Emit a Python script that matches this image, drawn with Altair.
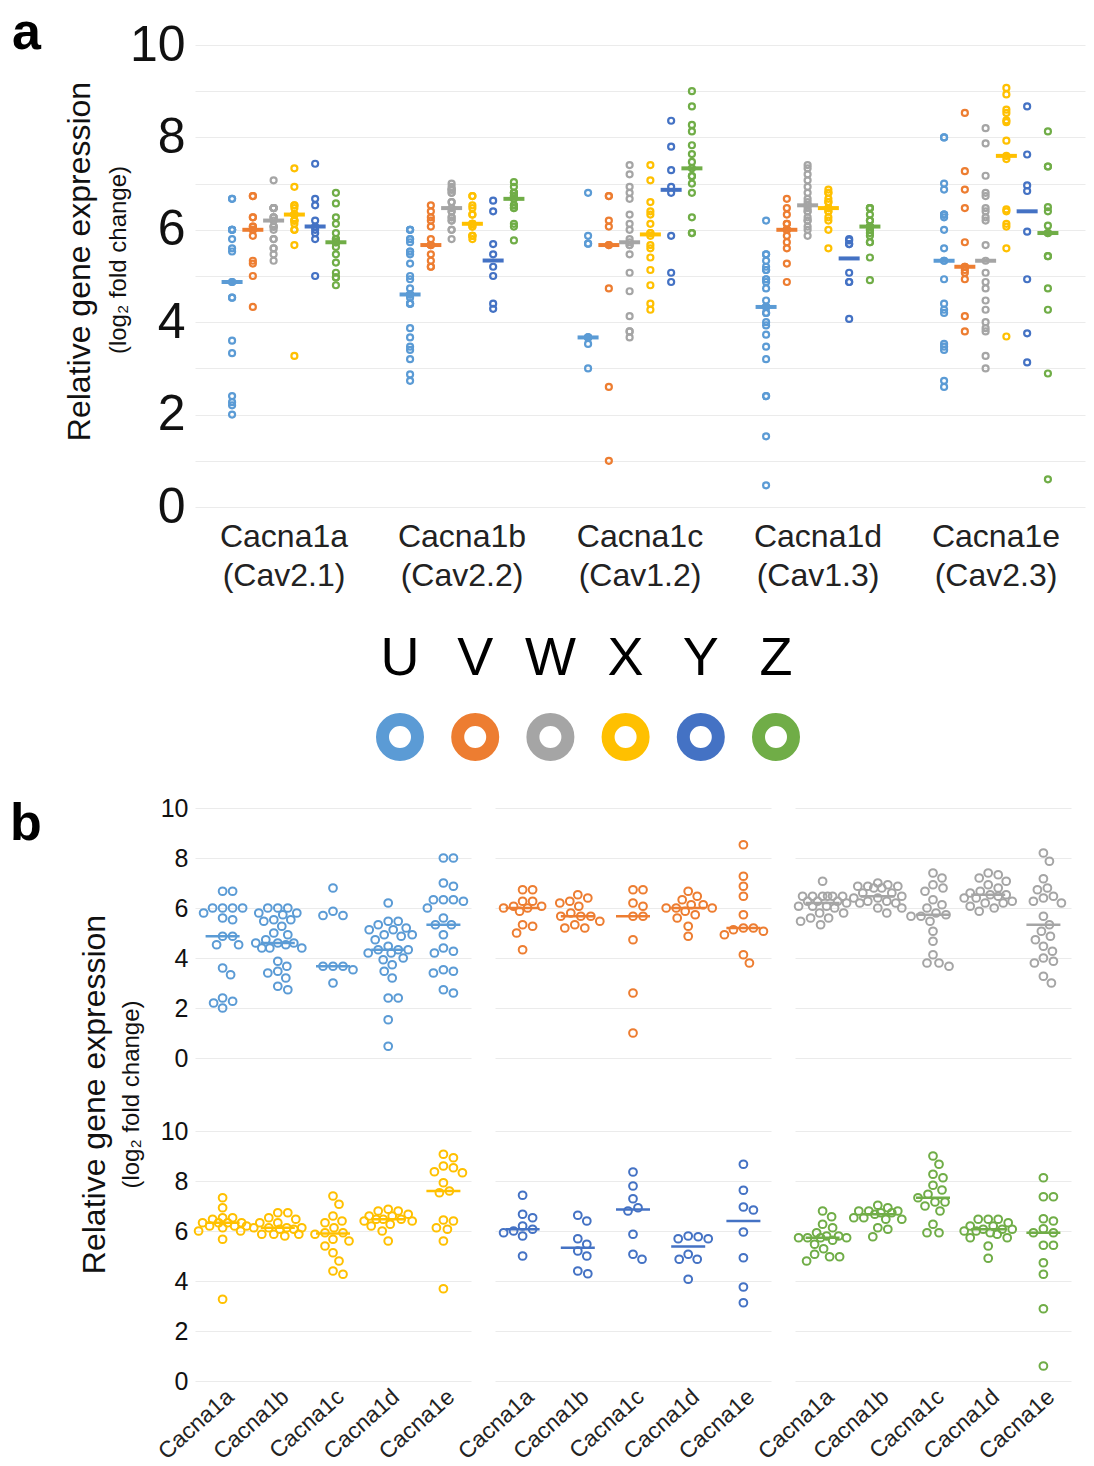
import altair as alt
import pandas as pd

genes = ["Cacna1a", "Cacna1b", "Cacna1c", "Cacna1d", "Cacna1e"]
channels = ["(Cav2.1)", "(Cav2.2)", "(Cav1.2)", "(Cav1.3)", "(Cav2.3)"]
groups = ["U", "V", "W", "X", "Y", "Z"]
colors = ["#5B9BD5", "#ED7D31", "#A5A5A5", "#FFC000", "#4472C4", "#70AD47"]

# values per group: one list per gene (Cacna1a..Cacna1e), log2 fold change
U = [
    [6.67, 6.67, 6.0, 6.0, 6.0, 6.0, 5.8, 5.6, 5.53, 4.87, 4.87, 4.53, 4.53, 3.6, 3.33, 2.4, 2.27, 2.2, 2.0],
    [6.0, 6.0, 6.0, 5.8, 5.8, 5.73, 5.53, 5.53, 5.47, 5.27, 5.0, 4.93, 4.73, 4.6, 4.6, 4.6, 4.53, 4.4, 4.4, 4.4,
     3.87, 3.67, 3.47, 3.4, 3.2, 2.87, 2.73],
    [6.8, 5.87, 5.7, 5.7, 3.67, 3.67, 3.67, 3.53, 3.0],
    [6.2, 5.47, 5.47, 5.33, 5.2, 5.13, 5.13, 4.93, 4.93, 4.87, 4.73, 4.47, 4.33, 4.33, 4.33, 4.2, 4.2, 4.0, 3.93,
     3.73, 3.47, 3.2, 2.4, 2.4, 1.53, 0.47],
    [8.0, 8.0, 7.0, 6.87, 6.33, 6.33, 6.33, 6.27, 6.0, 5.6, 5.33, 5.33, 4.93, 4.4, 4.27, 4.2, 3.53, 3.47, 3.4, 2.73, 2.6],
]
V = [
    [6.73, 6.73, 6.27, 6.27, 6.07, 6.07, 6.0, 6.0, 5.87, 5.33, 5.27, 5.0, 4.33],
    [6.53, 6.4, 6.27, 6.2, 6.07, 5.8, 5.67, 5.67, 5.67, 5.47, 5.33, 5.2, 5.2],
    [6.73, 6.73, 6.2, 6.07, 5.67, 5.67, 4.73, 2.6, 1.0],
    [6.67, 6.47, 6.33, 6.13, 6.13, 6.0, 6.0, 6.0, 5.87, 5.73, 5.6, 5.27, 4.87],
    [8.53, 7.27, 6.87, 6.47, 5.73, 5.2, 5.2, 5.13, 5.07, 4.93, 4.13, 3.8],
]
W = [
    [7.07, 6.47, 6.47, 6.47, 6.47, 6.47, 6.47, 6.27, 6.27, 6.27, 6.2, 6.07, 6.07, 6.07, 6.0, 5.8, 5.8, 5.6, 5.6,
     5.47, 5.33],
    [7.0, 6.93, 6.87, 6.87, 6.87, 6.8, 6.8, 6.6, 6.6, 6.47, 6.4, 6.4, 6.27, 6.27, 6.2, 6.2, 6.0, 6.0, 5.8],
    [7.4, 7.2, 6.93, 6.8, 6.67, 6.33, 6.13, 6.0, 5.8, 5.73, 5.67, 5.67, 5.47, 5.07, 4.67, 4.13, 3.8, 3.8, 3.67],
    [7.4, 7.33, 7.2, 7.07, 6.93, 6.8, 6.67, 6.6, 6.53, 6.53, 6.47, 6.4, 6.4, 6.27, 6.2, 6.2, 6.07, 6.0, 5.87],
    [8.2, 7.87, 7.17, 6.8, 6.73, 6.47, 6.4, 6.27, 6.2, 5.67, 5.33, 5.07, 4.87, 4.73, 4.47, 4.27, 4.0, 3.87, 3.8,
     3.27, 3.0],
]
X = [
    [7.33, 6.93, 6.53, 6.53, 6.47, 6.33, 6.33, 6.33, 6.33, 6.2, 6.2, 6.2, 6.13, 6.0, 6.0, 5.67, 3.27],
    [6.73, 6.73, 6.53, 6.47, 6.33, 6.33, 6.13, 6.13, 6.13, 6.13, 6.07, 6.07, 5.87, 5.87, 5.87, 5.8],
    [7.4, 7.07, 6.6, 6.4, 6.33, 6.13, 5.93, 5.93, 5.87, 5.67, 5.6, 5.4, 5.13, 4.8, 4.4, 4.27],
    [6.87, 6.8, 6.8, 6.67, 6.6, 6.6, 6.47, 6.47, 6.47, 6.4, 6.4, 6.27, 6.2, 6.0, 5.6],
    [9.07, 8.93, 8.6, 8.53, 8.37, 8.33, 7.93, 7.6, 7.53, 6.44, 6.4, 6.13, 6.07, 5.6, 3.69],
]
Y = [
    [7.43, 6.67, 6.53, 6.2, 6.07, 6.0, 5.93, 5.8, 5.0],
    [6.63, 6.4, 5.69, 5.47, 5.2, 5.0, 4.4, 4.29],
    [8.36, 7.8, 7.29, 6.93, 6.8, 5.87, 5.07, 4.87],
    [5.8, 5.77, 5.69, 5.69, 5.07, 4.87, 4.87, 4.07],
    [8.67, 7.63, 6.96, 6.84, 5.96, 4.93, 3.76, 3.13],
]
Z = [
    [6.8, 6.57, 6.27, 6.13, 5.93, 5.8, 5.8, 5.73, 5.73, 5.73, 5.73, 5.63, 5.47, 5.29, 5.07, 4.97, 4.97, 4.8],
    [7.03, 6.93, 6.8, 6.8, 6.8, 6.73, 6.73, 6.67, 6.53, 6.53, 6.47, 6.47, 6.13, 6.07, 5.77],
    [9.0, 8.67, 8.27, 8.13, 7.83, 7.64, 7.47, 7.33, 7.16, 7.16, 7.0, 6.8, 6.27, 5.93, 5.93],
    [6.47, 6.47, 6.47, 6.33, 6.2, 6.2, 6.07, 6.07, 6.07, 6.0, 6.0, 5.93, 5.87, 5.73, 5.73, 5.4, 4.91],
    [8.13, 7.37, 7.37, 6.49, 6.4, 6.09, 5.93, 5.93, 5.43, 5.43, 4.73, 4.27, 2.89, 0.6],
]

FONT = "Liberation Sans"
PA_W, PA_H = 890, 462
PB_W, PB_H = 276, 250
ROW_GAP, COL_GAP = 73, 24
LEG_H = 301
STEP_B = PB_W / 5.0


def swarm(vals, ppu=PB_H / 10.0, diam=10.0, maxoff=24):
    """Deterministic beeswarm offsets (pixels) so circles do not overlap."""
    cands = [0]
    for k in range(1, maxoff + 1):
        cands += [k, -k]
    placed, out = [], [0.0] * len(vals)
    for i in sorted(range(len(vals)), key=lambda j: -vals[j]):
        y = vals[i] * ppu
        best, best_d = None, -1.0
        for c in cands:
            d = min([((c - px) ** 2 + (y - py) ** 2) ** 0.5 for px, py in placed] or [1e9])
            if d >= diam:
                best = c
                break
            if d > best_d:
                best_d, best = d, c
        placed.append((best, y))
        out[i] = best
    return out


rows = []
for g, lists in zip(groups, [U, V, W, X, Y, Z]):
    for gi, (gene, vals) in enumerate(zip(genes, lists)):
        offs = swarm(vals)
        for v, o in zip(vals, offs):
            rows.append(dict(group=g, gene=gene, gene_label=gene + "|" + channels[gi],
                             gi=gi, value=v, xb=gi + o / STEP_B))
df = pd.DataFrame(rows)
label_order = [g + "|" + c for g, c in zip(genes, channels)]
color_scale = alt.Scale(domain=groups, range=colors)

# ---------------- panel a ----------------
xa = alt.X("gene_label:N", sort=label_order,
           scale=alt.Scale(paddingInner=0.3, paddingOuter=0.15),
           axis=alt.Axis(title=None, labelExpr="split(datum.label, '|')", labelFontSize=32,
                         labelLineHeight=39, labelPadding=14, labelAngle=0, ticks=False,
                         domain=False, labelColor="#222", grid=False))
xoff = alt.XOffset("group:N", sort=groups, scale=alt.Scale(paddingInner=0, paddingOuter=0))
ya = alt.Y("value:Q", scale=alt.Scale(domain=[0, 10], nice=False),
           axis=alt.Axis(values=list(range(11)),
                         labelExpr="datum.value % 2 == 0 ? datum.label : ''",
                         labelFontSize=50, labelColor="#111", labelPadding=10, ticks=False,
                         domain=False, gridColor="#EBEBEB", title="Relative gene expression",
                         titleFontSize=32, titleFontWeight="normal", titlePadding=33,
                         titleY=PA_H / 2 - 15, titleColor="#111"))
base_a = alt.Chart(df)
pts_a = base_a.mark_point(shape="circle", filled=False, size=36, strokeWidth=2.2, opacity=1).encode(
    x=xa, xOffset=xoff, y=ya, color=alt.Color("group:N", scale=color_scale, legend=None))
med_a = base_a.mark_tick(orient="horizontal", size=21, thickness=4, opacity=1).encode(
    x=xa, xOffset=xoff, y=alt.Y("median(value):Q"),
    color=alt.Color("group:N", scale=color_scale, legend=None))
ann = pd.DataFrame({"t": ["a"]})
lab_a = alt.Chart(ann).mark_text(fontSize=52, fontWeight="bold", align="left", baseline="alphabetic",
                                 color="#000").encode(x=alt.value(-183), y=alt.value(4), text="t:N")
sub_a = alt.Chart(pd.DataFrame({"t": ["(log\u2082 fold change)"]})).mark_text(
    fontSize=24, angle=270, align="center", baseline="middle", color="#111").encode(
    x=alt.value(-76), y=alt.value(PA_H / 2 - 16), text="t:N")
panel_a = alt.layer(pts_a, med_a, lab_a, sub_a).properties(width=PA_W, height=PA_H)

# ---------------- legend ----------------
leg_df = pd.DataFrame({"group": groups})
lx = alt.X("group:N", sort=groups, scale=alt.Scale(range=[205, 581], padding=0), axis=None)
letters = alt.Chart(leg_df).mark_text(fontSize=54, color="#000", baseline="middle").encode(
    x=lx, y=alt.value(152), text="group:N")
donuts = alt.Chart(leg_df).mark_point(shape="circle", filled=False, size=1225, strokeWidth=13,
                                      opacity=1).encode(
    x=lx, y=alt.value(230), color=alt.Color("group:N", scale=color_scale, legend=None))
legend = alt.layer(letters, donuts).properties(width=PA_W, height=LEG_H)

# ---------------- panel b ----------------
gene_expr = "[" + ",".join("'" + g + "'" for g in genes) + "][datum.value]"
xb = alt.X("xb:Q", scale=alt.Scale(domain=[-0.5, 4.5], nice=False, zero=False),
           axis=alt.Axis(values=[0, 1, 2, 3, 4], labelExpr=gene_expr, labelAngle=-42,
                         labelFontSize=23, labelColor="#222", title=None, grid=False, ticks=False,
                         domain=False, labelPadding=4, labelOverlap=False))
yb = alt.Y("value:Q", scale=alt.Scale(domain=[0, 10], nice=False),
           axis=alt.Axis(values=list(range(11)),
                         labelExpr="datum.value % 2 == 0 ? datum.label : ''",
                         labelFontSize=25, labelColor="#111", labelPadding=7, ticks=False,
                         domain=False, gridColor="#EBEBEB", title=None))
ccol = alt.Color("group:N", scale=color_scale, legend=None)
pts_b = alt.Chart().mark_point(shape="circle", filled=False, size=60, strokeWidth=2, opacity=1).encode(
    x=xb, y=yb, color=ccol)
med_b = alt.Chart().transform_aggregate(
    med="median(value)", groupby=["group", "gi"]).mark_tick(
    orient="horizontal", size=34, thickness=2.5, opacity=1).encode(
    x=alt.X("gi:Q"), y=alt.Y("med:Q"), color=ccol)
one_u = alt.Chart().transform_aggregate(n="count()", groupby=["group"]).transform_filter(
    "datum.group == 'U'")
lab_b = one_u.mark_text(fontSize=52, fontWeight="bold", align="left", baseline="alphabetic",
                        color="#000").encode(x=alt.value(-185), y=alt.value(32), text=alt.value("b"))
tit1 = one_u.mark_text(fontSize=32, angle=270, align="center", baseline="middle",
                       color="#111").encode(x=alt.value(-100), y=alt.value(PB_H + ROW_GAP / 2),
                                            text=alt.value("Relative gene expression"))
tit2 = one_u.mark_text(fontSize=24, angle=270, align="center", baseline="middle",
                       color="#111").encode(x=alt.value(-63), y=alt.value(PB_H + ROW_GAP / 2),
                                            text=alt.value("(log\u2082 fold change)"))
facet_b = alt.layer(pts_b, med_b, lab_b, tit1, tit2, data=df).properties(width=PB_W, height=PB_H).facet(
    facet=alt.Facet("group:N", sort=groups,
                    header=alt.Header(title=None, labels=False, labelExpr="''", labelPadding=0,
                                      labelColor="#FFFFFF", labelFontSize=1)),
    columns=3, spacing={"row": ROW_GAP, "column": COL_GAP}, bounds="flush")

chart = alt.vconcat(panel_a, legend, facet_b, spacing=0, bounds="flush").properties(
    padding={"left": 10, "top": 7, "right": 4, "bottom": 4}
).configure(font=FONT).configure_view(stroke=None).configure_axis(labelFont=FONT, titleFont=FONT)

chart.save("out.html", embed_options={"renderer": "svg", "actions": False})
